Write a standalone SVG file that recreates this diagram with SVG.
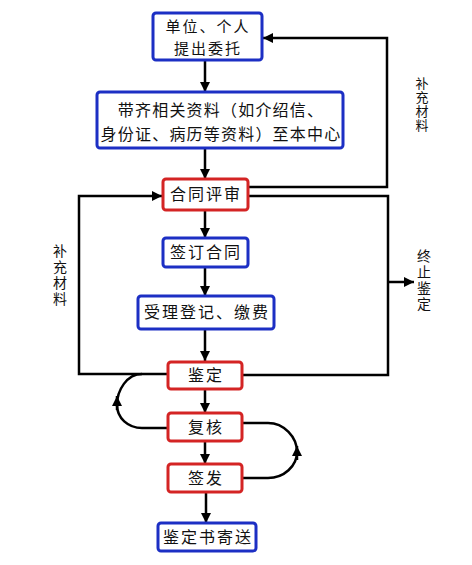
<svg xmlns="http://www.w3.org/2000/svg" width="472" height="565" viewBox="0 0 472 565">
<defs>
<marker id="ah" viewBox="0 0 10 10" refX="10" refY="5" markerWidth="13" markerHeight="10" markerUnits="userSpaceOnUse" orient="auto"><path d="M0,0 L10,5 L0,10 Z" fill="#000"/></marker>
<style>
.b{fill:#fff;stroke:#1c2fc4;stroke-width:3}
.r{fill:#fff;stroke:#d42424;stroke-width:3}
.t{font-family:"Noto Sans CJK SC","Liberation Serif",serif;font-size:16px;fill:#111;text-anchor:middle;letter-spacing:2px}
.v{font-family:"Noto Sans CJK SC","Liberation Serif",serif;font-size:14px;fill:#111;writing-mode:vertical-rl;text-anchor:start;letter-spacing:2px}
.c{fill:none;stroke:#000;stroke-width:2.5}
</style>
</defs>
<rect width="472" height="565" fill="#fff"/>
<g id="connectors">
<path class="c" d="M205,60 V92" marker-end="url(#ah)"/>
<path class="c" d="M205,148 V179" marker-end="url(#ah)"/>
<path class="c" d="M205,210 V238" marker-end="url(#ah)"/>
<path class="c" d="M205,267 V296" marker-end="url(#ah)"/>
<path class="c" d="M205,329 V361" marker-end="url(#ah)"/>
<path class="c" d="M205,389 V413" marker-end="url(#ah)"/>
<path class="c" d="M205,441 V464" marker-end="url(#ah)"/>
<path class="c" d="M206,492 V523" marker-end="url(#ah)"/>
<path class="c" d="M248,187 H387 V38 H263" marker-end="url(#ah)"/>
<path class="c" d="M248,196 H388 V375 H242"/>
<path class="c" d="M388,282 H414" marker-end="url(#ah)"/>
<path class="c" d="M168,374 H79 V196 H162" marker-end="url(#ah)"/>
<path class="c" d="M168,428 H142 C128,428 117,418 117,405 C117,390 127,374 142,374"/>
<path class="c" d="M117,410 V396" marker-end="url(#ah)"/>
<path class="c" d="M242,478 H268 C284,478 297,466 297,452 C297,437 284,423 268,423 H242"/>
<path class="c" d="M297,446 V460" marker-end="url(#ah)" transform="rotate(180 297 453)"/>
</g>
<g id="n1"><rect class="b" x="153" y="13" width="109" height="47" rx="3"/><text class="t" x="208" y="32" style="font-size:15px"><tspan x="208">单位、个人</tspan><tspan x="208" dy="22">提出委托</tspan></text></g>
<g id="n2"><rect class="b" x="97" y="92" width="246" height="56" rx="3"/><text class="t" x="221" y="116" style="letter-spacing:1.2px"><tspan x="221">带齐相关资料（如介绍信、</tspan><tspan x="221" dy="24">身份证、病历等资料）至本中心</tspan></text></g>
<g id="n3"><rect class="r" x="163" y="179" width="85" height="31" rx="3"/><text class="t" x="206" y="200">合同评审</text></g>
<g id="n4"><rect class="b" x="163" y="238" width="85" height="29" rx="3"/><text class="t" x="206" y="258">签订合同</text></g>
<g id="n5"><rect class="b" x="138" y="296" width="136" height="33" rx="3"/><text class="t" x="207" y="318">受理登记、缴费</text></g>
<g id="n6"><rect class="r" x="168" y="362" width="74" height="27" rx="3"/><text class="t" x="206" y="381">鉴定</text></g>
<g id="n7"><rect class="r" x="168" y="413" width="74" height="28" rx="3"/><text class="t" x="206" y="433">复核</text></g>
<g id="n8"><rect class="r" x="168" y="464" width="74" height="28" rx="3"/><text class="t" x="206" y="484">签发</text></g>
<g id="n9"><rect class="b" x="158" y="523" width="98" height="28" rx="3"/><text class="t" x="208" y="543">鉴定书寄送</text></g>
<g id="labels">
<text class="v" x="422" y="77" style="font-size:13px;letter-spacing:1px">补充材料</text>
<text class="v" x="60" y="244">补充材料</text>
<text class="v" x="424" y="249">终止鉴定</text>
</g>
</svg>
